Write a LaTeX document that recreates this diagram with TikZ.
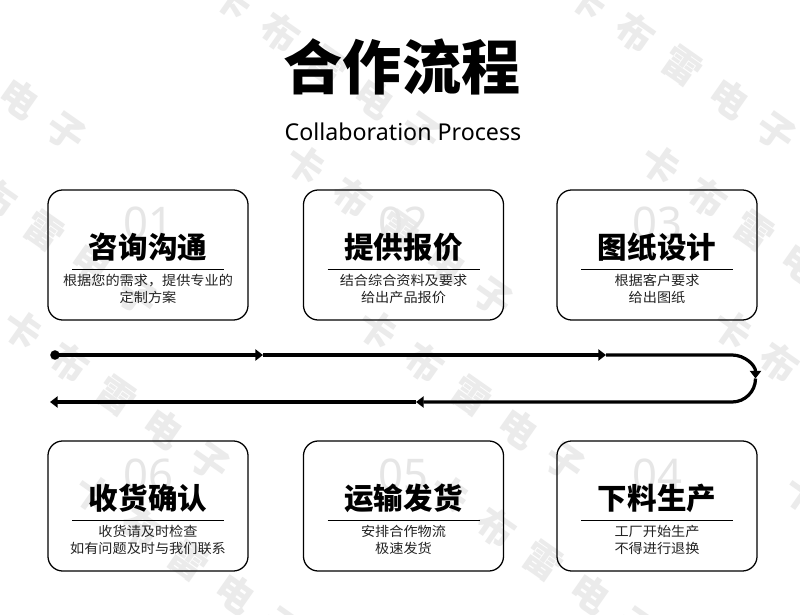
\documentclass[tikz,border=0pt]{standalone}
\usepackage{fontspec}
\usetikzlibrary{calc,arrows.meta,positioning}
\setmainfont{Noto Sans}
\newfontfamily\cjk{Noto Sans CJK SC}
\newfontfamily\cjkdesc{Noto Sans CJK SC}[FakeStretch=1.06]
\definecolor{cMark}{HTML}{EBEBEB}
\definecolor{cNum}{HTML}{E6E6E6}
\definecolor{cDesc}{HTML}{222222}
\tikzset{
  stepbox/.style={draw=black,line width=.9pt,rounded corners=10.5pt,minimum width=5cm,minimum height=3.25cm,inner sep=0pt},
  stephead/.style={font=\cjk\bfseries\fontsize{21}{24}\selectfont,inner sep=0pt},
  stepnum/.style={font=\bfseries\fontsize{31}{33}\selectfont,text=cNum,inner sep=0pt,anchor=base},
  steprule/.style={line width=.7pt,black},
  stepdesc/.style={font=\cjkdesc\fontsize{9.5}{11.7}\selectfont,text=cDesc,align=center,inner sep=0pt},
  flow/.style={line width=2.3pt,black},
  flowtip/.style={-{Triangle[length=5.5pt,width=8pt]}},
  flowdot/.style={circle,fill=black,inner sep=0pt,minimum size=6.8pt},
  wmark/.style={font=\cjk\bfseries\fontsize{27}{27}\selectfont,text=cMark,rotate=-35,inner sep=0pt},
}

\begin{document}
\begin{tikzpicture}[x=0.025cm,y=-0.025cm]
  \fill[white] (0,0) rectangle (800,615);
  \useasboundingbox (0,0) rectangle (800,615);
  % watermark
  \begin{scope}
    \clip (0,0) rectangle (800,615);
    \foreach \k in {0,...,3}{
      \foreach \j in {-1,0,1}{
        \foreach \c [count=\i from 0] in {卡,布,雷,电,子}{
          \node[wmark] (wm-\k-\j-\i) at (233+72*\k+355*\j+47*\i,165*\k+33*\i) {\c};
        }
      }
    }
  \end{scope}
  % heading
  \node[font=\cjk\bfseries\fontsize{42}{46}\selectfont,inner sep=0pt] (title) at (402,67) {合作流程};
  \node[font=\fontsize{16.5}{18}\selectfont,anchor=base,inner sep=0pt] (subtitle) at (403,141) {Collaboration Process};
  % the six steps
  \foreach \n/\x/\y/\num/\head/\desc in {
    s1/148/255/01/咨询沟通/{根据您的需求，提供专业的\\定制方案},
    s2/403.5/255/02/提供报价/{结合综合资料及要求\\给出产品报价},
    s3/657/255/03/图纸设计/{根据客户要求\\给出图纸},
    s4/657/506/04/下料生产/{工厂开始生产\\不得进行退换},
    s5/403.5/506/05/运输发货/{安排合作物流\\极速发货},
    s6/148/506/06/收货确认/{收货请及时检查\\如有问题及时与我们联系}}{
    \node[stepbox] (\n) at (\x,\y) {};
    \node[stepnum] (\n num) at ($(\n)+(0,-16)$) {\num};
    \node[stephead] (\n head) at ($(\n)+(0,-8)$) {\head};
    \draw[steprule] ($(\n)+(-76,14)$) -- ($(\n)+(76,14)$);
    \node[stepdesc] (\n desc) at ($(\n)+(0,34)$) {\desc};
  }
  % flow line
  \node[flowdot] (fstart) at (55,355) {};
  \coordinate (fa1) at (263,355);
  \coordinate (fa2) at (606,355);
  \coordinate (fturn) at (732,355);
  \coordinate (fb1) at (416,402);
  \coordinate (fend) at (50,402);
  \draw[flow,flowtip] (fstart.center) -- (fa1);
  \draw[flow,flowtip] (fa1) -- (fa2);
  \draw[flow,flowtip] (fa2) -- (fturn) arc[start angle=90,end angle=0,radius=0.5875cm] coordinate (fright);
  \draw[flow,flowtip] (fright) arc[start angle=0,end angle=-90,radius=0.5875cm] -- (fb1);
  \draw[flow,flowtip] (fb1) -- (fend);
\end{tikzpicture}
\end{document}
